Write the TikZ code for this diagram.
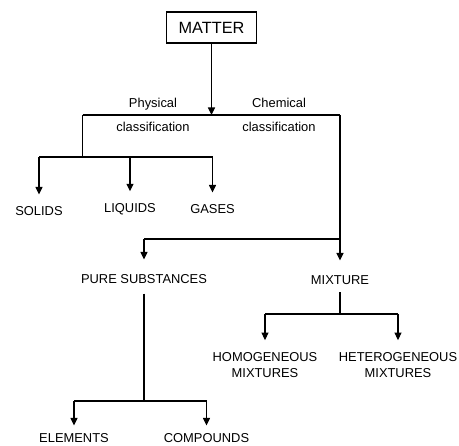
\documentclass[tikz,border=0pt]{standalone}
\usepackage{fontspec}
\setmainfont{Liberation Sans}
\usetikzlibrary{positioning,arrows.meta}

\begin{document}
\begin{tikzpicture}
[x=1pt,y=-1pt,
 every node/.style={inner sep=0pt,outer sep=0pt,font=\fontsize{12.9}{16}\selectfont},
 top/.style={draw,line width=1.4pt,inner xsep=12pt,inner ysep=9.8pt,font=\fontsize{16.3}{19}\selectfont},
 cls/.style={align=center},
 leaf/.style={align=center},
 link/.style={line width=1.1pt},
 arr/.style={link,-{Triangle[length=7.5pt,width=7pt]}},
 down/.style={arr,shorten >=#1},
 down/.default=12pt]
\useasboundingbox (0,0) rectangle (459,446);

\node[top]  (matter) at (211.5,27.5) {MATTER};
\node[cls]  (phys)     [on grid,below  left=87pt and 58.5pt of matter]  {Physical\\[8pt]classification};
\node[cls]  (chem)     [on grid,below right=87pt and 67.5pt of matter]  {Chemical\\[8pt]classification};
\node[leaf] (solids)   [on grid,below  left=96.5pt and 114pt of phys]   {SOLIDS};
\node[leaf] (liquids)  [on grid,above right=2pt and 91pt of solids]     {LIQUIDS};
\node[leaf] (gases)    [on grid,right=82.5pt of liquids]                {GASES};
\node[leaf] (pure)     [on grid,below  left=164.5pt and 135pt of chem]  {PURE SUBSTANCES};
\node[leaf] (mixture)  [on grid,below right=1pt and 196pt of pure]      {MIXTURE};
\node[leaf] (elements) [on grid,below  left=159pt and 70pt of pure]     {ELEMENTS};
\node[leaf] (compounds)[on grid,right=132.5pt of elements]              {COMPOUNDS};
\node[leaf] (homog)    [on grid,below  left=84.7pt and 75pt of mixture] {HOMOGENEOUS\\MIXTURES};
\node[leaf] (heterog)  [on grid,right=133pt of homog]                   {HETEROGENEOUS\\MIXTURES};

% junction points of the tree
\path (matter) ++(0,87.5) coordinate (split) ++(-129,0) coordinate (physj);
\coordinate (chemj) at (split -| mixture);
\path (physj) ++(0,42) coordinate (statej);
\path (chemj) ++(0,124) coordinate (subj);
\path (pure) ++(0,122) coordinate (elemj);
\path (mixture) ++(0,34) coordinate (mixj);

\draw[arr]  (matter) -- (split);
\draw[link] (physj) -- (chemj);
\draw[link] (physj) -- (statej);
\draw[link] (statej -| solids) -- (statej -| gases);
\foreach \n in {solids,liquids,gases}
  \draw[down] (statej -| \n) -- (\n);
\draw[down=15pt] (chemj) -- (mixture);
\draw[link] (subj -| pure) -- (subj);
\draw[down=15pt] (subj -| pure) -- (pure);
\draw[link,shorten <=10pt] (pure) -- (elemj);
\draw[link] (elemj -| elements) -- (elemj -| compounds);
\foreach \n in {elements,compounds}
  \draw[down=8pt] (elemj -| \n) -- (\n);
\draw[link,shorten <=8pt] (mixture) -- (mixj);
\draw[link] (mixj -| homog) -- (mixj -| heterog);
\foreach \n in {homog,heterog}
  \draw[down] (mixj -| \n) -- (\n);
\end{tikzpicture}
\end{document}
